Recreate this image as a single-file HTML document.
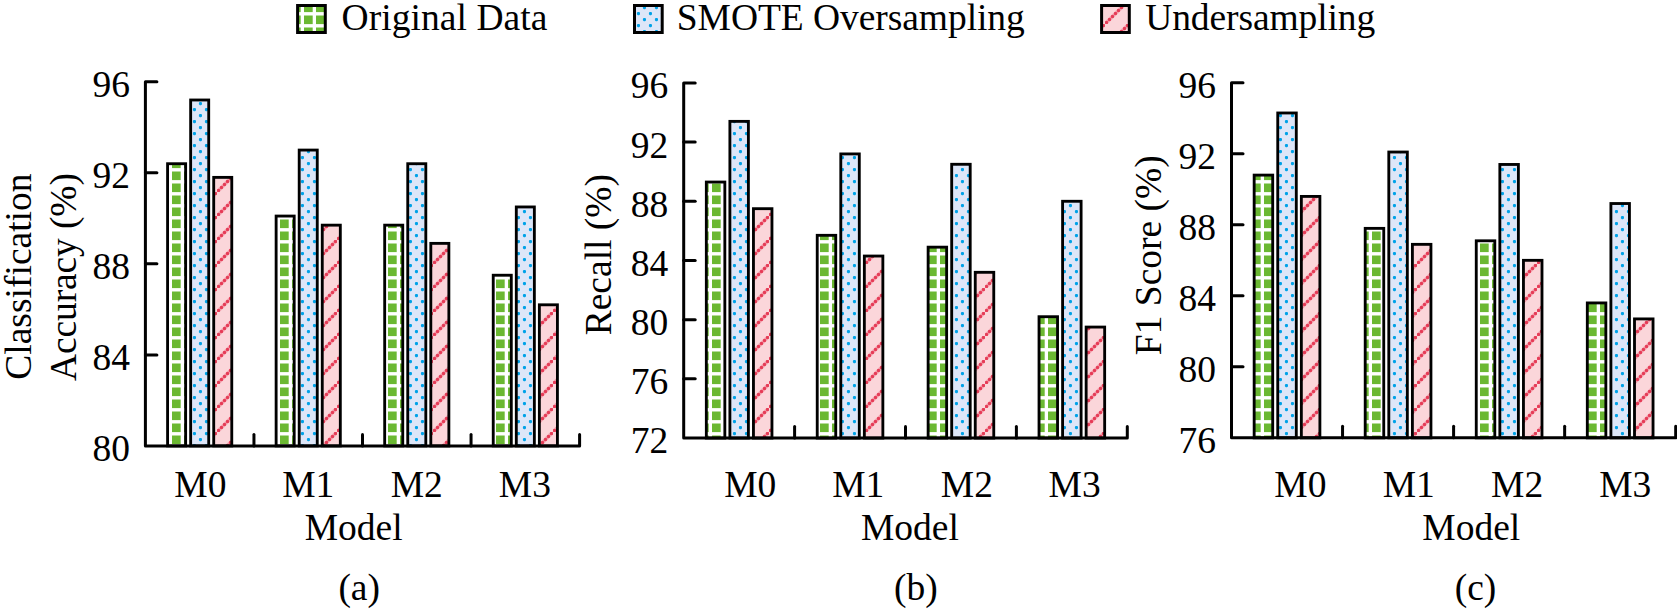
<!DOCTYPE html>
<html lang="en">
<head>
<meta charset="utf-8">
<title>Model comparison</title>
<style>
html,body{margin:0;padding:0;background:#fff;}
body{width:1677px;height:613px;overflow:hidden;}
svg{display:block;}
text{font-family:"Liberation Serif","Times New Roman",serif;font-size:37.5px;fill:#000;}
.ax{stroke:#000;stroke-width:3.0;fill:none;stroke-linecap:round;stroke-linejoin:round;}
.bar{stroke:#000;stroke-width:2.85;}
</style>
</head>
<body>
<svg width="1677" height="613" viewBox="0 0 1677 613">
<defs>
<pattern id="pg" patternUnits="userSpaceOnUse" x="0" y="0" width="12" height="12">
<rect x="0" y="0" width="12" height="12" fill="#6bb832"/>
<rect x="0.7" y="0" width="3.3" height="12" fill="#fff"/>
<rect x="0" y="0.1" width="12" height="3.4" fill="#fff"/>
</pattern>
<pattern id="pb" patternUnits="userSpaceOnUse" x="0" y="0" width="12" height="12">
<rect x="0" y="0" width="12" height="12" fill="#dde6f8"/>
<rect x="0.9" y="0.1" width="3.1" height="3.1" rx="1.1" fill="#00a2e8"/>
<rect x="6.9" y="6.1" width="3.1" height="3.1" rx="1.1" fill="#00a2e8"/>
</pattern>
<pattern id="pp" patternUnits="userSpaceOnUse" x="1" y="0" width="24" height="24">
<rect x="0" y="0" width="24" height="24" fill="#fbd6da"/>

<path d="M-2 26L26 -2" stroke="#f29aa7" stroke-width="3.6" fill="none"/>
<rect x="0.00" y="21.00" width="3" height="3" rx="0.7" fill="#e63c57"/>
<rect x="3.00" y="18.00" width="3" height="3" rx="0.7" fill="#e63c57"/>
<rect x="6.00" y="15.00" width="3" height="3" rx="0.7" fill="#e63c57"/>
<rect x="9.00" y="12.00" width="3" height="3" rx="0.7" fill="#e63c57"/>
<rect x="12.00" y="9.00" width="3" height="3" rx="0.7" fill="#e63c57"/>
<rect x="15.00" y="6.00" width="3" height="3" rx="0.7" fill="#e63c57"/>
<rect x="18.00" y="3.00" width="3" height="3" rx="0.7" fill="#e63c57"/>
<rect x="21.00" y="0.00" width="3" height="3" rx="0.7" fill="#e63c57"/>
</pattern>
</defs>
<rect x="0" y="0" width="1677" height="613" fill="#fff"/>
<rect x="297.6" y="5.5" width="27.7" height="27" fill="url(#pg)" stroke="#000" stroke-width="3"/>
<text x="341.5" y="30.3" textLength="205.9">Original Data</text>
<rect x="634.5" y="5.5" width="27.7" height="27" fill="url(#pb)" stroke="#000" stroke-width="3"/>
<text x="676.8" y="30.3" textLength="348.0">SMOTE Oversampling</text>
<rect x="1101.6" y="5.5" width="27.7" height="27" fill="url(#pp)" stroke="#000" stroke-width="3"/>
<text x="1145.2" y="30.3" textLength="230.0">Undersampling</text>
<rect class="bar" x="167.58" y="163.72" width="18.06" height="282.18" fill="url(#pg)"/>
<rect class="bar" x="190.65" y="100.00" width="18.06" height="345.90" fill="url(#pb)"/>
<rect class="bar" x="213.71" y="177.38" width="18.06" height="268.52" fill="url(#pp)"/>
<rect class="bar" x="276.13" y="216.06" width="18.06" height="229.84" fill="url(#pg)"/>
<rect class="bar" x="299.20" y="150.07" width="18.06" height="295.83" fill="url(#pb)"/>
<rect class="bar" x="322.26" y="225.16" width="18.06" height="220.74" fill="url(#pp)"/>
<rect class="bar" x="384.68" y="225.16" width="18.06" height="220.74" fill="url(#pg)"/>
<rect class="bar" x="407.75" y="163.72" width="18.06" height="282.18" fill="url(#pb)"/>
<rect class="bar" x="430.81" y="243.37" width="18.06" height="202.53" fill="url(#pp)"/>
<rect class="bar" x="493.23" y="275.23" width="18.06" height="170.67" fill="url(#pg)"/>
<rect class="bar" x="516.30" y="206.96" width="18.06" height="238.94" fill="url(#pb)"/>
<rect class="bar" x="539.36" y="304.81" width="18.06" height="141.09" fill="url(#pp)"/>
<path class="ax" d="M156.90 81.80H145.40V445.90H579.60V434.40"/>
<text x="130.0" y="461.3" text-anchor="end">80</text>
<path class="ax" d="M145.40 354.88H156.90"/>
<text x="130.0" y="370.3" text-anchor="end">84</text>
<path class="ax" d="M145.40 263.85H156.90"/>
<text x="130.0" y="279.2" text-anchor="end">88</text>
<path class="ax" d="M145.40 172.82H156.90"/>
<text x="130.0" y="188.2" text-anchor="end">92</text>
<text x="130.0" y="97.2" text-anchor="end">96</text>
<path class="ax" d="M253.95 445.90V434.40"/>
<path class="ax" d="M362.50 445.90V434.40"/>
<path class="ax" d="M471.05 445.90V434.40"/>
<text x="200.4" y="496.6" text-anchor="middle">M0</text>
<text x="308.2" y="496.6" text-anchor="middle">M1</text>
<text x="416.8" y="496.6" text-anchor="middle">M2</text>
<text x="524.9" y="496.6" text-anchor="middle">M3</text>
<text x="353.7" y="540.1" text-anchor="middle">Model</text>
<text x="359.2" y="599.9" text-anchor="middle">(a)</text>
<rect class="bar" x="706.33" y="182.05" width="18.51" height="256.00" fill="url(#pg)"/>
<rect class="bar" x="729.89" y="121.37" width="18.51" height="316.68" fill="url(#pb)"/>
<rect class="bar" x="753.45" y="208.68" width="18.51" height="229.37" fill="url(#pp)"/>
<rect class="bar" x="817.23" y="235.32" width="18.51" height="202.73" fill="url(#pg)"/>
<rect class="bar" x="840.79" y="153.93" width="18.51" height="284.12" fill="url(#pb)"/>
<rect class="bar" x="864.35" y="256.04" width="18.51" height="182.01" fill="url(#pp)"/>
<rect class="bar" x="928.13" y="247.16" width="18.51" height="190.89" fill="url(#pg)"/>
<rect class="bar" x="951.69" y="164.29" width="18.51" height="273.76" fill="url(#pb)"/>
<rect class="bar" x="975.25" y="272.31" width="18.51" height="165.74" fill="url(#pp)"/>
<rect class="bar" x="1039.03" y="316.71" width="18.51" height="121.34" fill="url(#pg)"/>
<rect class="bar" x="1062.59" y="201.28" width="18.51" height="236.77" fill="url(#pb)"/>
<rect class="bar" x="1086.15" y="327.07" width="18.51" height="110.98" fill="url(#pp)"/>
<path class="ax" d="M695.20 82.90H683.70V438.05H1127.30V426.55"/>
<text x="668.3" y="453.4" text-anchor="end">72</text>
<path class="ax" d="M683.70 378.86H695.20"/>
<text x="668.3" y="394.3" text-anchor="end">76</text>
<path class="ax" d="M683.70 319.67H695.20"/>
<text x="668.3" y="335.1" text-anchor="end">80</text>
<path class="ax" d="M683.70 260.48H695.20"/>
<text x="668.3" y="275.9" text-anchor="end">84</text>
<path class="ax" d="M683.70 201.28H695.20"/>
<text x="668.3" y="216.7" text-anchor="end">88</text>
<path class="ax" d="M683.70 142.09H695.20"/>
<text x="668.3" y="157.5" text-anchor="end">92</text>
<text x="668.3" y="98.3" text-anchor="end">96</text>
<path class="ax" d="M794.60 438.05V426.55"/>
<path class="ax" d="M905.50 438.05V426.55"/>
<path class="ax" d="M1016.40 438.05V426.55"/>
<text x="750.2" y="496.6" text-anchor="middle">M0</text>
<text x="858.2" y="496.6" text-anchor="middle">M1</text>
<text x="966.9" y="496.6" text-anchor="middle">M2</text>
<text x="1074.6" y="496.6" text-anchor="middle">M3</text>
<text x="910.0" y="540.1" text-anchor="middle">Model</text>
<text x="915.9" y="599.9" text-anchor="middle">(b)</text>
<rect class="bar" x="1254.16" y="175.11" width="18.54" height="262.74" fill="url(#pg)"/>
<rect class="bar" x="1277.75" y="112.98" width="18.54" height="324.87" fill="url(#pb)"/>
<rect class="bar" x="1301.35" y="196.42" width="18.54" height="241.43" fill="url(#pp)"/>
<rect class="bar" x="1365.21" y="228.37" width="18.54" height="209.48" fill="url(#pg)"/>
<rect class="bar" x="1388.80" y="152.03" width="18.54" height="285.82" fill="url(#pb)"/>
<rect class="bar" x="1412.40" y="244.35" width="18.54" height="193.50" fill="url(#pp)"/>
<rect class="bar" x="1476.26" y="240.80" width="18.54" height="197.05" fill="url(#pg)"/>
<rect class="bar" x="1499.85" y="164.46" width="18.54" height="273.39" fill="url(#pb)"/>
<rect class="bar" x="1523.45" y="260.33" width="18.54" height="177.52" fill="url(#pp)"/>
<rect class="bar" x="1587.31" y="302.93" width="18.54" height="134.92" fill="url(#pg)"/>
<rect class="bar" x="1610.90" y="203.52" width="18.54" height="234.33" fill="url(#pb)"/>
<rect class="bar" x="1634.50" y="318.91" width="18.54" height="118.94" fill="url(#pp)"/>
<path class="ax" d="M1243.00 82.80H1231.50V437.85H1675.70V426.35"/>
<text x="1216.1" y="453.2" text-anchor="end">76</text>
<path class="ax" d="M1231.50 366.84H1243.00"/>
<text x="1216.1" y="382.2" text-anchor="end">80</text>
<path class="ax" d="M1231.50 295.83H1243.00"/>
<text x="1216.1" y="311.2" text-anchor="end">84</text>
<path class="ax" d="M1231.50 224.82H1243.00"/>
<text x="1216.1" y="240.2" text-anchor="end">88</text>
<path class="ax" d="M1231.50 153.81H1243.00"/>
<text x="1216.1" y="169.2" text-anchor="end">92</text>
<text x="1216.1" y="98.2" text-anchor="end">96</text>
<path class="ax" d="M1342.55 437.85V426.35"/>
<path class="ax" d="M1453.60 437.85V426.35"/>
<path class="ax" d="M1564.65 437.85V426.35"/>
<text x="1300.4" y="496.6" text-anchor="middle">M0</text>
<text x="1408.7" y="496.6" text-anchor="middle">M1</text>
<text x="1517.1" y="496.6" text-anchor="middle">M2</text>
<text x="1625.3" y="496.6" text-anchor="middle">M3</text>
<text x="1471.3" y="540.1" text-anchor="middle">Model</text>
<text x="1475.5" y="599.9" text-anchor="middle">(c)</text>
<text transform="translate(30.9 276.6) rotate(-90)" text-anchor="middle">Classification</text>
<text transform="translate(75.8 277.0) rotate(-90)" text-anchor="middle" textLength="208">Accuracy (%)</text>
<text transform="translate(610.8 254.6) rotate(-90)" text-anchor="middle">Recall (%)</text>
<text transform="translate(1160.7 255.2) rotate(-90)" text-anchor="middle">F1 Score (%)</text>
</svg>
</body>
</html>
